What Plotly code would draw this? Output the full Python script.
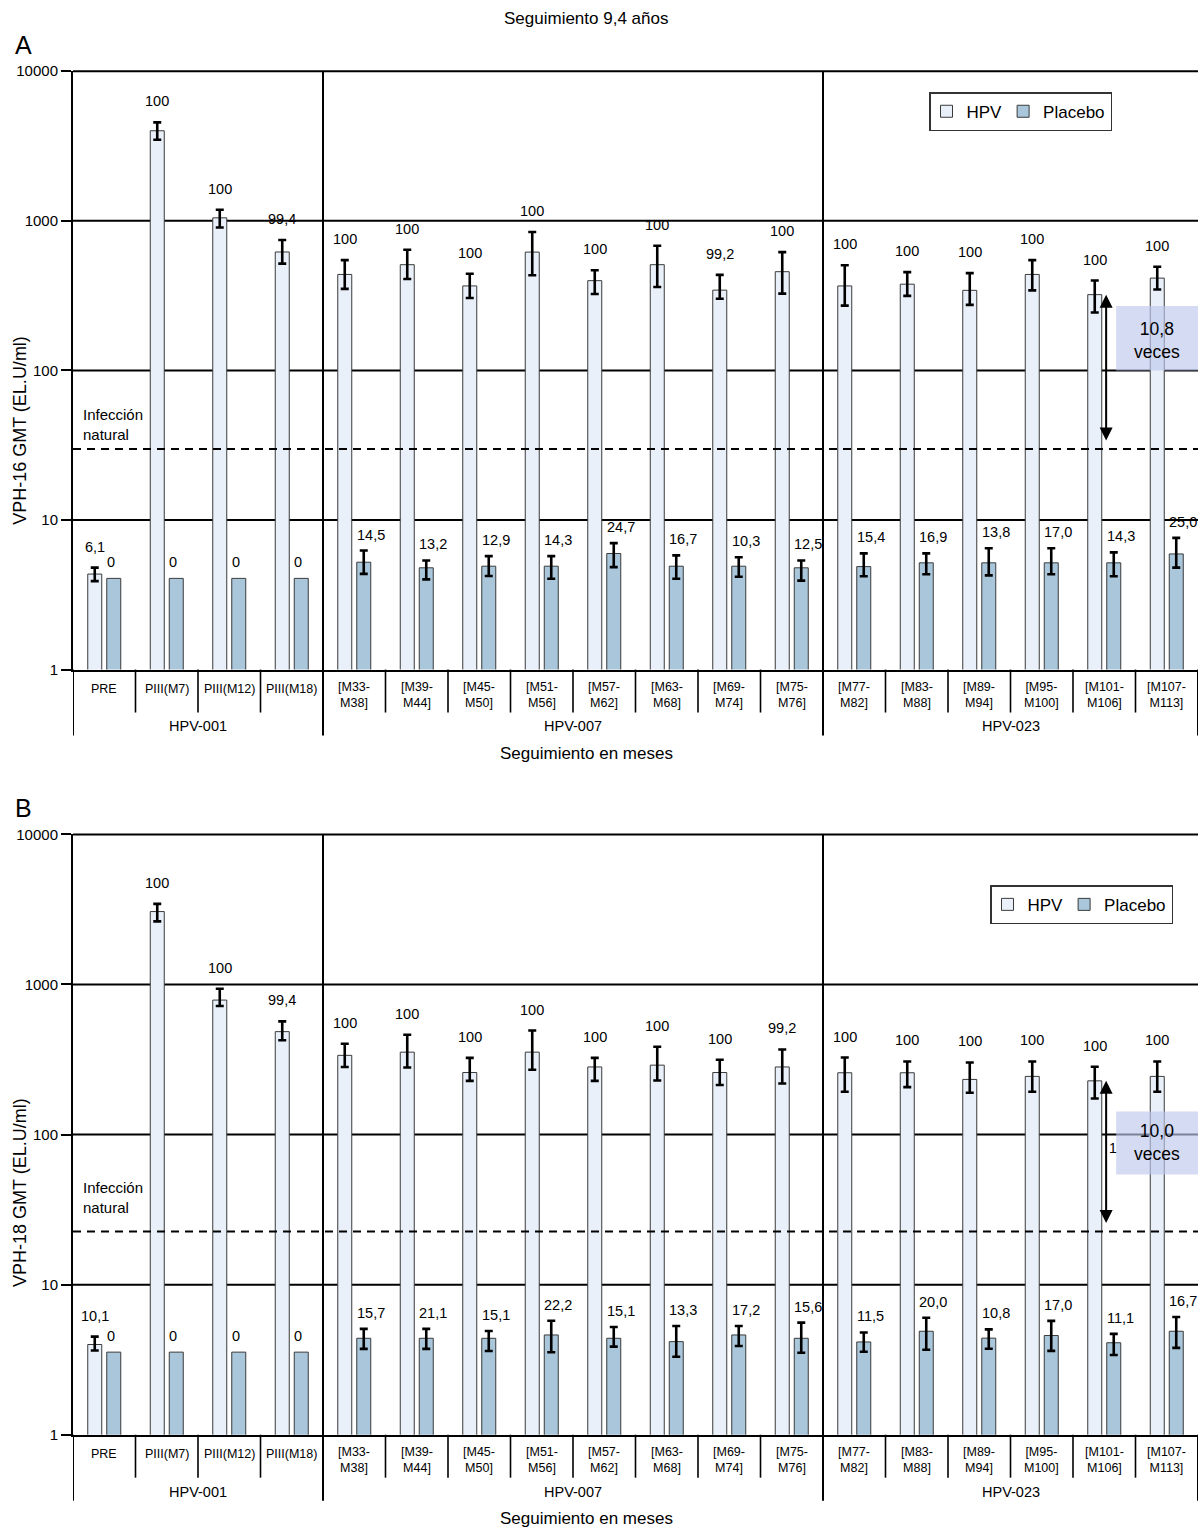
import math
import plotly.graph_objects as go

W, H = 1199, 1531

# ---------------- data ----------------
categories = ["PRE", "PIII(M7)", "PIII(M12)", "PIII(M18)",
              "[M33-<br>M38]", "[M39-<br>M44]", "[M45-<br>M50]", "[M51-<br>M56]",
              "[M57-<br>M62]", "[M63-<br>M68]", "[M69-<br>M74]", "[M75-<br>M76]",
              "[M77-<br>M82]", "[M83-<br>M88]", "[M89-<br>M94]", "[M95-<br>M100]",
              "[M101-<br>M106]", "[M107-<br>M113]"]
studies = ["HPV-001", "HPV-007", "HPV-023"]
study_sizes = [4, 8, 6]
series_names = ["HPV", "Placebo"]
y_ticks = [1, 10, 100, 1000, 10000]

# Panel A: VPH-16
hpv16_gmt = [4.35, 4000, 1047, 619, 438, 509, 367, 618, 398, 509, 344, 457, 367, 377, 343, 438, 321, 414]
hpv16_hi = [4.8, 4550, 1185, 745, 546, 641, 443, 841, 467, 681, 435, 618, 505, 454, 447, 546, 399, 493]
hpv16_lo = [3.9, 3480, 902, 517, 351, 408, 305, 433, 324, 361, 301, 326, 271, 315, 274, 343, 244, 347]
plc16_gmt = [4.07, 4.07, 4.07, 4.07, 5.22, 4.79, 4.91, 4.91, 5.97, 4.91, 4.91, 4.79, 4.88, 5.17, 5.17, 5.17, 5.17, 5.93]
plc16_hi = [None, None, None, None, 6.25, 5.36, 5.73, 5.73, 7.0, 5.8, 5.64, 5.36, 5.98, 5.98, 6.47, 6.47, 6.07, 7.59]
plc16_lo = [None, None, None, None, 4.36, 4.01, 4.22, 4.05, 4.84, 4.05, 4.17, 3.93, 4.21, 4.34, 4.26, 4.34, 4.21, 4.8]
hpv16_seropos = ["6,1", "100", "100", "99,4", "100", "100", "100", "100", "100", "100", "99,2", "100",
                 "100", "100", "100", "100", "100", "100"]
plc16_seropos = ["0", "0", "0", "0", "14,5", "13,2", "12,9", "14,3", "24,7", "16,7", "10,3", "12,5",
                 "15,4", "16,9", "13,8", "17,0", "14,3", "25,0"]

# Panel B: VPH-18
hpv18_gmt = [3.99, 3060, 787, 485, 337, 354, 259, 354, 282, 290, 259, 282, 258, 258, 233, 244, 228, 244]
hpv18_hi = [4.5, 3445, 936, 568, 403, 462, 324, 493, 324, 385, 315, 369, 326, 307, 302, 307, 283, 307]
hpv18_lo = [3.64, 2632, 718, 425, 282, 280, 228, 270, 228, 229, 214, 219, 193, 207, 190, 193, 174, 193]
plc18_gmt = [3.55, 3.55, 3.55, 3.55, 4.39, 4.39, 4.39, 4.62, 4.39, 4.17, 4.62, 4.39, 4.15, 4.89, 4.4, 4.58, 4.1, 4.89]
plc18_hi = [None, None, None, None, 5.07, 5.07, 4.91, 5.75, 5.22, 5.3, 5.3, 5.58, 4.8, 6.01, 5.03, 5.73, 4.7, 6.08]
plc18_lo = [None, None, None, None, 3.73, 3.73, 3.61, 3.54, 3.86, 3.31, 3.9, 3.52, 3.57, 3.68, 3.74, 3.62, 3.4, 3.79]
hpv18_seropos = ["10,1", "100", "100", "99,4", "100", "100", "100", "100", "100", "100", "100", "99,2",
                 "100", "100", "100", "100", "100", "100"]
plc18_seropos = ["0", "0", "0", "0", "15,7", "21,1", "15,1", "22,2", "15,1", "13,3", "17,2", "15,6",
                 "11,5", "20,0", "10,8", "17,0", "11,1", "16,7"]

natural_infection = [29.8, 22.6]
fold_text = ["10,8", "10,0"]
y_titles = ["VPH-16 GMT (EL.U/ml)", "VPH-18 GMT (EL.U/ml)"]
panel_letters = ["A", "B"]
main_title = "Seguimiento 9,4 años"
x_title = "Seguimiento en meses"
natural_label = "Infección<br>natural"

# ---------------- style / layout ----------------
FONT = "Liberation Sans, Arial, Helvetica, sans-serif"
HPV_FILL = "#e9f0f9"
PLC_FILL = "#a9c6da"
OUTLINE = "#3a3a3a"
PLOT_L, PLOT_R = 73, 1198
BAR_W = 0.224
HPV_OFF = -0.264
PLC_OFF = 0.04
LOGMAX = math.log10(y_ticks[-1])
# measured page placement of the figure in the captured picture (vertical)
Y_SCALE, Y_OFF = 0.99, 7.7

panels = [
    dict(top=70, bottom=669, hpv=hpv16_gmt, hi=hpv16_hi, lo=hpv16_lo,
         pg=plc16_gmt, phi=plc16_hi, plo=plc16_lo, hs=hpv16_seropos, ps=plc16_seropos,
         box=(2.0, 2.43), box_text=2.2, ytitle_c=430, nat_text=(414 + 433) / 2,
         legend=dict(x=929, y=91), stray=False),
    dict(top=834, bottom=1435, hpv=hpv18_gmt, hi=hpv18_hi, lo=hpv18_lo,
         pg=plc18_gmt, phi=plc18_hi, plo=plc18_lo, hs=hpv18_seropos, ps=plc18_seropos,
         box=(1.733, 2.153), box_text=1.945, ytitle_c=1193, nat_text=(1188 + 1207) / 2,
         legend=dict(x=990, y=885), stray=True),
]


def py(p):
    f = (p - Y_OFF) / Y_SCALE
    return (H - f) / H


def px(p):
    return p / W


n = len(categories)
xs = list(range(n))
fig = go.Figure()
shapes = []
annotations = []

for k, P in enumerate(panels):
    sfx = "" if k == 0 else str(k + 1)
    xr, yr = "x" + sfx, "y" + sfx
    leg = "legend" + sfx
    # bars
    fig.add_trace(go.Bar(x=xs, y=P["hpv"], name=series_names[0], width=BAR_W, offset=HPV_OFF,
                         marker=dict(color=HPV_FILL, line=dict(color=OUTLINE, width=1)),
                         xaxis=xr, yaxis=yr, legend=leg, showlegend=True))
    fig.add_trace(go.Bar(x=xs, y=P["pg"], name=series_names[1], width=BAR_W, offset=PLC_OFF,
                         marker=dict(color=PLC_FILL, line=dict(color=OUTLINE, width=1)),
                         xaxis=xr, yaxis=yr, legend=leg, showlegend=True))
    # error bars
    hc = HPV_OFF + BAR_W / 2
    pc = PLC_OFF + BAR_W / 2
    fig.add_trace(go.Scatter(
        x=[i + hc for i in xs], y=P["hpv"], mode="markers",
        marker=dict(size=1, color="rgba(0,0,0,0)"), hoverinfo="skip", showlegend=False,
        error_y=dict(type="data", symmetric=False,
                     array=[h - g for h, g in zip(P["hi"], P["hpv"])],
                     arrayminus=[g - l for g, l in zip(P["hpv"], P["lo"])],
                     color="black", thickness=2.6, width=4),
        xaxis=xr, yaxis=yr))
    idx = [i for i in xs if P["phi"][i] is not None]
    fig.add_trace(go.Scatter(
        x=[i + pc for i in idx], y=[P["pg"][i] for i in idx], mode="markers",
        marker=dict(size=1, color="rgba(0,0,0,0)"), hoverinfo="skip", showlegend=False,
        error_y=dict(type="data", symmetric=False,
                     array=[P["phi"][i] - P["pg"][i] for i in idx],
                     arrayminus=[P["pg"][i] - P["plo"][i] for i in idx],
                     color="black", thickness=2.6, width=4),
        xaxis=xr, yaxis=yr))

    # horizontal grid lines
    for v in y_ticks[1:]:
        shapes.append(dict(type="line", xref=xr + " domain", yref=yr + " domain",
                           x0=0, x1=1, y0=math.log10(v) / LOGMAX, y1=math.log10(v) / LOGMAX,
                           line=dict(color="black", width=2), layer="below"))
    # natural infection dashed line
    nl = math.log10(natural_infection[k]) / LOGMAX
    shapes.append(dict(type="line", xref=xr + " domain", yref=yr + " domain",
                       x0=0, x1=1, y0=nl, y1=nl,
                       line=dict(color="black", width=2, dash="8px,6px"), layer="above"))
    # separators
    bnd = [-0.5]
    acc = -0.5
    for s in study_sizes:
        acc += s
        bnd.append(acc)
    for j, b in enumerate(bnd):
        top_p = py(P["top"]) if 0 < j < len(bnd) - 1 else py(P["bottom"])
        shapes.append(dict(type="line", xref=xr, yref="paper", x0=b, x1=b,
                           y0=py(P["bottom"] + 66), y1=top_p,
                           line=dict(color="black", width=2), layer="above"))
    for i in range(n - 1):
        b = i + 0.5
        if b in bnd:
            continue
        shapes.append(dict(type="line", xref=xr, yref="paper", x0=b, x1=b,
                           y0=py(P["bottom"] + 43), y1=py(P["bottom"]),
                           line=dict(color="black", width=1.6), layer="above"))
    # fold box
    shapes.append(dict(type="rect", xref=xr, yref=yr + " domain", x0=16.19, x1=17.5,
                       y0=P["box"][0] / LOGMAX, y1=P["box"][1] / LOGMAX,
                       fillcolor="rgba(190,200,235,0.65)", line=dict(width=0), layer="above"))
    annotations.append(dict(xref=xr, yref=yr, x=16.85, y=P["box_text"],
                            text=fold_text[k] + "<br>veces", showarrow=False,
                            font=dict(size=17.5, color="black"), align="center"))
    # arrow
    annotations.append(dict(xref=xr, yref=yr, x=16.03, y=math.log10(P["hpv"][16]),
                            axref=xr, ayref=yr, ax=16.03, ay=math.log10(natural_infection[k]),
                            text="", showarrow=True, arrowhead=2, arrowside="end+start",
                            arrowsize=1.3, arrowwidth=2, arrowcolor="black",
                            standoff=0, startstandoff=7))
    if P["stray"]:
        annotations.append(dict(xref=xr, yref=yr, x=16.14, y=1.907, text="1", showarrow=False,
                                font=dict(size=14, color="black")))

    # value labels
    for i in xs:
        annotations.append(dict(xref=xr, yref=yr, x=i + hc, y=math.log10(P["hi"][i]),
                                text=P["hs"][i], showarrow=False, yanchor="middle",
                                xanchor="center", yshift=21, font=dict(size=14.5, color="black")))
        top = P["phi"][i] if P["phi"][i] is not None else P["pg"][i]
        annotations.append(dict(xref=xr, yref=yr, x=i + PLC_OFF, y=math.log10(top),
                                text=P["ps"][i], showarrow=False, yanchor="middle",
                                xanchor="left", xshift=-2, yshift=16,
                                font=dict(size=14.5, color="black")))
    # category labels
    for i, c in enumerate(categories):
        two = "<br>" in c
        annotations.append(dict(xref=xr, yref="paper", x=i,
                                y=py(P["bottom"] + (25 if two else 19)),
                                text=c, showarrow=False, yanchor="middle", xanchor="center",
                                font=dict(size=12.5, color="black")))
    # study labels
    start = 0
    for s, sz in zip(studies, study_sizes):
        annotations.append(dict(xref=xr, yref="paper", x=start + sz / 2 - 0.5,
                                y=py(P["bottom"] + 57), text=s, showarrow=False,
                                yanchor="middle", font=dict(size=14.5, color="black")))
        start += sz
    # x title
    annotations.append(dict(xref="paper", yref="paper", x=px(586), y=py(P["bottom"] + 84),
                            text=x_title, showarrow=False, yanchor="middle", xanchor="center",
                            font=dict(size=17, color="black")))
    # y title
    annotations.append(dict(xref="paper", yref="paper", x=px(20), y=py(P["ytitle_c"]),
                            text=y_titles[k], showarrow=False, textangle=-90,
                            xanchor="center", yanchor="middle", font=dict(size=18, color="black")))
    # natural infection label
    annotations.append(dict(xref="paper", yref="paper", x=px(81), y=py(P["nat_text"]),
                            text=natural_label, showarrow=False, align="left",
                            xanchor="left", yanchor="middle", font=dict(size=15, color="black")))
    # panel letter
    annotations.append(dict(xref="paper", yref="paper", x=px(13), y=py(P["top"] - 26),
                            text=panel_letters[k], showarrow=False, xanchor="left",
                            yanchor="middle", font=dict(size=25, color="black")))

annotations.append(dict(xref="paper", yref="paper", x=px(586), y=py(17), text=main_title,
                        showarrow=False, xanchor="center", yanchor="middle",
                        font=dict(size=17, color="black")))

layout = dict(
    width=W, height=H, margin=dict(l=0, r=0, t=0, b=0),
    paper_bgcolor="white", plot_bgcolor="rgba(0,0,0,0)",
    font=dict(family=FONT, color="black"),
    barmode="overlay", shapes=shapes, annotations=annotations,
)
for k, P in enumerate(panels):
    sfx = "" if k == 0 else str(k + 1)
    layout["xaxis" + sfx] = dict(domain=[px(PLOT_L), px(PLOT_R)], range=[-0.5, n - 0.5],
                                 showticklabels=False, ticks="", showgrid=False, zeroline=False,
                                 showline=True, linecolor="black", linewidth=2,
                                 anchor="y" + sfx, fixedrange=True)
    layout["yaxis" + sfx] = dict(domain=[py(P["bottom"]), py(P["top"])], type="log",
                                 range=[0, LOGMAX], tickvals=y_ticks,
                                 ticktext=[str(v) for v in y_ticks],
                                 ticks="outside", ticklen=10, tickwidth=2, tickcolor="black",
                                 showline=True, linecolor="black", linewidth=2,
                                 showgrid=False, zeroline=False, anchor="x" + sfx,
                                 tickfont=dict(size=15, color="black"), fixedrange=True)
    layout["legend" + sfx] = dict(x=px(P["legend"]["x"]), y=py(P["legend"]["y"]),
                                  xanchor="left", yanchor="top", orientation="h",
                                  bordercolor="#333333", borderwidth=1.5, bgcolor="white",
                                  font=dict(size=17, color="black"), itemwidth=30,
                                  indentation=-4, traceorder="normal")

fig.update_layout(**layout)

# place the figure at the page's top-left corner (no body margin)
post_js = ("document.documentElement.style.margin='0';"
           "document.body.style.margin='0';document.body.style.padding='0';"
           "var gds=document.getElementsByClassName('plotly-graph-div');"
           "for(var q=0;q<gds.length;q++){var g=gds[q];"
           "g.style.position='absolute';g.style.left='0px';g.style.top='0px';}")
fig.write_html("out.html", post_script=post_js, config={"displayModeBar": False})
